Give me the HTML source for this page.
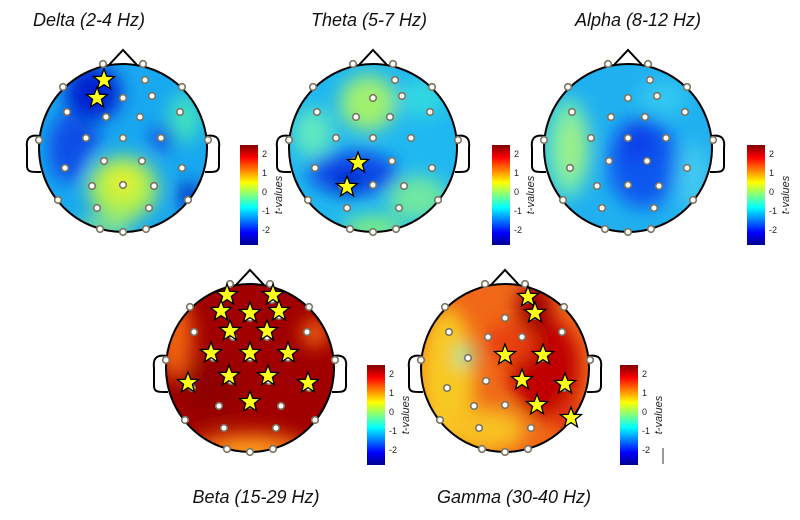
<!DOCTYPE html>
<html><head><meta charset="utf-8"><style>
body{margin:0;background:#fff}
svg{display:block}
text{font-family:"Liberation Sans",Arial,sans-serif}
</style></head><body>
<svg id="s" width="800" height="520" xmlns="http://www.w3.org/2000/svg">
<defs>
<filter id="bl" x="-50%" y="-50%" width="200%" height="200%"><feGaussianBlur stdDeviation="9"/></filter>
<linearGradient id="jet" x1="0" y1="1" x2="0" y2="0">
<stop offset="0" stop-color="#00008f"/><stop offset="0.125" stop-color="#0000ff"/>
<stop offset="0.375" stop-color="#00ffff"/><stop offset="0.5" stop-color="#7fff7f"/>
<stop offset="0.625" stop-color="#ffff00"/><stop offset="0.875" stop-color="#ff0000"/>
<stop offset="1" stop-color="#800000"/></linearGradient>
<clipPath id="c1"><circle cx="123" cy="148" r="84"/></clipPath>
<clipPath id="c2"><circle cx="373" cy="148" r="84"/></clipPath>
<clipPath id="c3"><circle cx="628" cy="148" r="84"/></clipPath>
<clipPath id="c4"><circle cx="250" cy="368" r="84"/></clipPath>
<clipPath id="c5"><circle cx="505" cy="368" r="84"/></clipPath>
</defs>
<g font-style="italic" font-size="18" text-anchor="middle" fill="#111">
<text x="89" y="26">Delta (2-4 Hz)</text>
<text x="369" y="26">Theta (5-7 Hz)</text>
<text x="638" y="26">Alpha (8-12 Hz)</text>
<text x="256" y="503">Beta (15-29 Hz)</text>
<text x="514" y="503">Gamma (30-40 Hz)</text>
</g>
<line x1="663" y1="448" x2="663" y2="464" stroke="#333" stroke-width="1"/>
</svg>
<script>
const s=document.getElementById('s');const NS='http://www.w3.org/2000/svg';
function el(t,a,p){const e=document.createElementNS(NS,t);for(const k in a)e.setAttribute(k,a[k]);(p||s).appendChild(e);return e;}
const E=[[-20,-84],[20,-84],[22,-68],[-60,-61],[59,-61],[0,-50],[29,-52],[-56,-36],[-17,-31],[17,-31],[57,-36],[-84,-8],[-37,-10],[0,-10],[38,-10],[85,-8],[-58,20],[-19,13],[19,13],[59,20],[-31,38],[0,37],[31,38],[-65,52],[65,52],[-26,60],[26,60],[-23,81],[0,84],[23,81]];
function star(cx,cy,r,p){let pts=[];for(let i=0;i<10;i++){const a=-Math.PI/2+i*Math.PI/5;const rr=i%2?r*0.42:r;pts.push((cx+rr*Math.cos(a)).toFixed(1)+','+(cy+rr*Math.sin(a)).toFixed(1));}
el('polygon',{points:pts.join(' '),fill:'#ffff1a',stroke:'#000','stroke-width':1.3,'stroke-linejoin':'miter'},p);}
function head(cx,cy,cid,base,blobs,stars,cbx){
 el('path',{d:`M${cx-15} ${cy-82} L${cx} ${cy-98} L${cx+15} ${cy-82}`,fill:'none',stroke:'#000','stroke-width':2});
 el('path',{d:`M${cx-83} ${cy-12} C${cx-95} ${cy-14} ${cx-97} ${cy-8} ${cx-96} ${cy} L${cx-96} ${cy+18} C${cx-96} ${cy+25} ${cx-90} ${cy+24} ${cx-82} ${cy+24}`,fill:'none',stroke:'#000','stroke-width':2});
 el('path',{d:`M${cx+83} ${cy-12} C${cx+95} ${cy-14} ${cx+97} ${cy-8} ${cx+96} ${cy} L${cx+96} ${cy+18} C${cx+96} ${cy+25} ${cx+90} ${cy+24} ${cx+82} ${cy+24}`,fill:'none',stroke:'#000','stroke-width':2});
 const g=el('g',{'clip-path':`url(#${cid})`});
 el('rect',{x:cx-90,y:cy-90,width:180,height:180,fill:base},g);
 const gb=el('g',{filter:'url(#bl)'},g);
 for(const b of blobs)el('ellipse',{cx:cx+b[0],cy:cy+b[1],rx:b[2],ry:b[3],fill:b[4],opacity:b[5]||1},gb);
 el('circle',{cx,cy,r:84,fill:'none',stroke:'#000','stroke-width':2});
 for(const e of E)el('circle',{cx:cx+e[0],cy:cy+e[1],r:3.3,fill:'#fff',stroke:'#7a7460','stroke-width':1.6});
 for(const t of stars)star(t[0],t[1],11);
 const by=cy-3;
 el('rect',{x:cbx,y:by,width:18,height:100,fill:'url(#jet)'});
 const labs=['2','1','0','-1','-2'];
 for(let i=0;i<5;i++){el('text',{x:cbx+22,y:by+12+i*19,'font-size':9,fill:'#222'}).textContent=labs[i];}
 const t=el('text',{x:cbx+42,y:by+50,'font-size':11,'font-style':'italic',fill:'#222','text-anchor':'middle',transform:`rotate(-90 ${cbx+42} ${by+50})`});t.textContent='t-values';
}
head(123,148,'c1','#18a8f0',[[-30,-55,28,28,'#0020d0'],[-55,0,20,35,'#1050e8'],[-35,-10,12,12,'#0a40e0'],[0,40,35,32,'#b0f050'],[0,35,14,14,'#e8f020'],[40,-10,12,12,'#0a40e0'],[62,-30,16,25,'#40e0c0'],[66,48,10,14,'#0020c0'],[-20,80,30,10,'#90f080',0.8]],[[104,80],[97,98]],240);
head(373,148,'c2','#20b8f0',[[-5,-45,28,28,'#a0f070'],[-20,25,45,22,'#1048e8'],[-25,35,15,12,'#0020c8'],[50,-50,22,20,'#30d8e0'],[45,50,30,22,'#70e8a0'],[-60,-15,20,25,'#60e8c0'],[0,80,30,12,'#80f080']],[[358,163],[347,187]],492);
head(628,148,'c3','#20b0f0',[[15,15,35,45,'#1058f0'],[10,-5,18,20,'#0840e8'],[-60,0,22,50,'#70eab0'],[-55,0,12,30,'#a0f080'],[35,-50,25,18,'#30c8f0'],[65,30,18,35,'#40c8f0']],[],747);
head(250,368,'c4','#a00000',[[-75,-30,18,40,'#f06010'],[65,-35,14,14,'#f06010'],[0,82,60,18,'#f07010'],[0,85,30,10,'#ffa020'],[-40,20,30,30,'#8a0000',0.7]],[[227,295],[273,295],[221,311],[250,313],[279,311],[230,331],[267,331],[211,353],[250,353],[288,353],[229,376],[268,376],[188,383],[308,383],[250,402]],367);
head(505,368,'c5','#f06818',[[-58,10,28,70,'#f8c820'],[-40,-12,10,10,'#80f0b0'],[40,0,35,50,'#c00000'],[30,-60,18,25,'#a00000'],[-20,62,40,22,'#f8c020'],[5,-25,25,20,'#e84010'],[65,50,15,20,'#e03010']],[[528,297],[535,313],[505,355],[543,355],[522,380],[565,384],[537,405],[571,418]],620);
</script>
</body></html>
